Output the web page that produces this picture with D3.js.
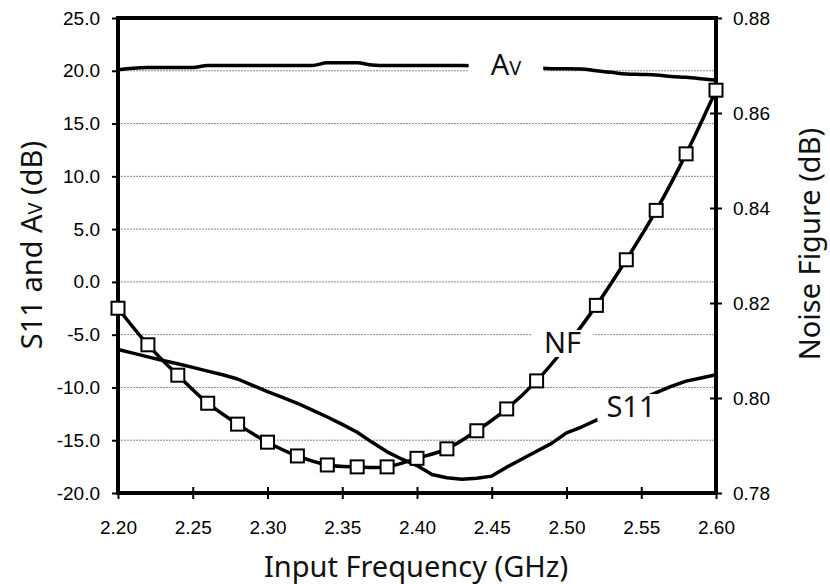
<!DOCTYPE html>
<html lang="en">
<head>
<meta charset="utf-8">
<title>S11, Av and NF vs input frequency</title>
<script src="https://cdn.jsdelivr.net/npm/d3@7"></script>
<style>
  body { margin: 0; background: #fff; }
  .tick text { font-family: "Liberation Sans", Arial, sans-serif; font-size: 19px; fill: #000; }
  .ttl { font-family: "Noto Sans", sans-serif; font-size: 29px; fill: #111; }
</style>
</head>
<body>
<script>

// sweep frequencies (GHz) for S11 and Av
var freq = [2.20, 2.21, 2.22, 2.23, 2.24, 2.25, 2.26, 2.27, 2.28, 2.29,
            2.30, 2.31, 2.32, 2.33, 2.34, 2.35, 2.36, 2.37, 2.38, 2.39,
            2.40, 2.41, 2.42, 2.43, 2.44, 2.45, 2.46, 2.47, 2.48, 2.49,
            2.50, 2.51, 2.52, 2.53, 2.54, 2.55, 2.56, 2.57, 2.58, 2.59, 2.60];

// S11 (dB)
var s11 = [-6.4, -6.75, -7.1, -7.45, -7.75, -8.1, -8.45, -8.8, -9.2, -9.8,
           -10.4, -10.95, -11.5, -12.15, -12.8, -13.5, -14.25, -15.2, -16.1, -16.8,
           -17.4, -18.25, -18.55, -18.7, -18.6, -18.4, -17.55, -16.8, -16.05, -15.3,
           -14.3, -13.75, -13.1, -12.45, -11.8, -11.1, -10.5, -9.9, -9.4, -9.1, -8.8];

// voltage gain Av (dB)
var av = [20.1, 20.25, 20.3, 20.3, 20.3, 20.3, 20.5, 20.5, 20.5, 20.5,
          20.5, 20.5, 20.5, 20.5, 20.75, 20.75, 20.75, 20.55, 20.5, 20.5,
          20.5, 20.5, 20.5, 20.5, 20.45, 20.4, 20.35, 20.3, 20.25, 20.2,
          20.2, 20.17, 20.0, 19.85, 19.7, 19.65, 19.6, 19.45, 19.38, 19.25, 19.1];

// noise figure points (with square markers)
var nfFreq = [2.20, 2.22, 2.24, 2.26, 2.28, 2.30, 2.32, 2.34, 2.36, 2.38, 2.40,
              2.42, 2.44, 2.46, 2.48, 2.50, 2.52, 2.54, 2.56, 2.58, 2.60];
var nf = [0.8189, 0.8112, 0.8048, 0.7989, 0.7945, 0.7907, 0.7878, 0.7859, 0.7855, 0.7855, 0.7873,
          0.7893, 0.7931, 0.7977, 0.8036, 0.8110, 0.8195, 0.8291, 0.8395, 0.8514, 0.8648];

// ticks
var xTicks = [2.20, 2.25, 2.30, 2.35, 2.40, 2.45, 2.50, 2.55, 2.60];
var leftTicks = [-20, -15, -10, -5, 0, 5, 10, 15, 20, 25];
var rightTicks = [0.78, 0.80, 0.82, 0.84, 0.86, 0.88];

// curve labels, placed in data units (left axis)
var labelText = ["A", "NF", "S11"];
var labelFreq = [2.4595, 2.4973, 2.5431];
var labelVal = [19.6, -6.74, -12.8];

var w = 830, h = 584;
var L = 118, R = 716, T = 18, B = 493;

var svg = d3.select("body").append("svg")
            .attr("width", w)
            .attr("height", h);

var x = d3.scaleLinear().domain([2.20, 2.60]).range([L, R]);
var yL = d3.scaleLinear().domain([-20, 25]).range([B, T]);
var yR = d3.scaleLinear().domain([0.78, 0.88]).range([B, T]);

// gridlines
svg.append("g").selectAll("line")
   .data(leftTicks.filter(function(d){ return d > -20 && d < 25; }))
   .enter().append("line")
   .attr("x1", L).attr("x2", R)
   .attr("y1", function(d){ return yL(d); })
   .attr("y2", function(d){ return yL(d); })
   .attr("stroke", "#8a8a8a")
   .attr("stroke-width", 1)
   .attr("stroke-dasharray", "2,1");

// curves
var s11Line = d3.line()
    .x(function(d, i){ return x(freq[i]); })
    .y(function(d){ return yL(d); });

var avLine = d3.line()
    .x(function(d, i){ return x(freq[i]); })
    .y(function(d){ return yL(d); })
    .curve(d3.curveMonotoneX);

var nfLine = d3.line()
    .x(function(d, i){ return x(nfFreq[i]); })
    .y(function(d){ return yR(d); })
    .curve(d3.curveCatmullRom.alpha(0.5));

[[s11, s11Line], [av, avLine], [nf, nfLine]].forEach(function(p){
  svg.append("path")
     .datum(p[0])
     .attr("d", p[1])
     .attr("fill", "none")
     .attr("stroke", "#000")
     .attr("stroke-width", 3.5)
     .attr("stroke-linejoin", "round");
});

// axes
var gx = svg.append("g")
   .attr("transform", "translate(0," + B + ")")
   .call(d3.axisBottom(x).tickValues(xTicks)
         .tickFormat(function(d){ return d.toFixed(2); })
         .tickSizeInner(6).tickSizeOuter(0).tickPadding(22));
gx.selectAll(".tick line").attr("y1", -6).attr("y2", 6).attr("stroke-width", 2);

var gl = svg.append("g")
   .attr("transform", "translate(" + L + ",0)")
   .call(d3.axisLeft(yL).tickValues(leftTicks)
         .tickFormat(function(d){ return d.toFixed(1); })
         .tickSizeInner(6).tickSizeOuter(0).tickPadding(12));
gl.selectAll(".tick line").attr("stroke-width", 2);

var gr = svg.append("g")
   .attr("transform", "translate(" + R + ",0)")
   .call(d3.axisRight(yR).tickValues(rightTicks)
         .tickFormat(function(d){ return d.toFixed(2); })
         .tickSizeInner(6).tickSizeOuter(0).tickPadding(11));
gr.selectAll(".tick line").attr("x1", -6).attr("x2", 6).attr("stroke-width", 2);

svg.selectAll(".domain").remove();

// plot frame
svg.append("rect")
   .attr("x", L).attr("y", T)
   .attr("width", R - L).attr("height", B - T)
   .attr("fill", "none")
   .attr("stroke", "#000")
   .attr("stroke-width", 4);

// NF markers
svg.append("g").selectAll("rect")
   .data(nf)
   .enter().append("rect")
   .attr("x", function(d, i){ return x(nfFreq[i]) - 6.5; })
   .attr("y", function(d){ return yR(d) - 6.5; })
   .attr("width", 13).attr("height", 13)
   .attr("fill", "#fff")
   .attr("stroke", "#000")
   .attr("stroke-width", 2);

// curve labels with white boxes
var padX = [22, 12, 9];
labelText.forEach(function(t, i){
  var g = svg.append("g");
  var box = g.append("rect").attr("fill", "#fff");
  var txt = g.append("text")
     .attr("class", "ttl")
     .attr("x", x(labelFreq[i]))
     .attr("y", yL(labelVal[i]))
     .attr("text-anchor", "middle")
     .text(t);
  if (t == "A") txt.append("tspan").style("font-size", "20px").text("V");
  var bb = txt.node().getBBox();
  box.attr("x", bb.x - padX[i])
     .attr("width", bb.width + 2 * padX[i])
     .attr("y", yL(labelVal[i]) - 23)
     .attr("height", 27);
});

// axis titles
var lt = svg.append("text")
   .attr("class", "ttl")
   .attr("transform", "translate(42,245) rotate(-90)")
   .attr("text-anchor", "middle")
   .text("S11 and A");
lt.append("tspan").style("font-size", "20px").text("V");
lt.append("tspan").text(" (dB)");

svg.append("text")
   .attr("class", "ttl")
   .attr("transform", "translate(820,244) rotate(-90)")
   .attr("text-anchor", "middle")
   .text("Noise Figure (dB)");

svg.append("text")
   .attr("class", "ttl")
   .attr("x", 416).attr("y", 577)
   .attr("text-anchor", "middle")
   .text("Input Frequency (GHz)");

</script>
</body>
</html>
